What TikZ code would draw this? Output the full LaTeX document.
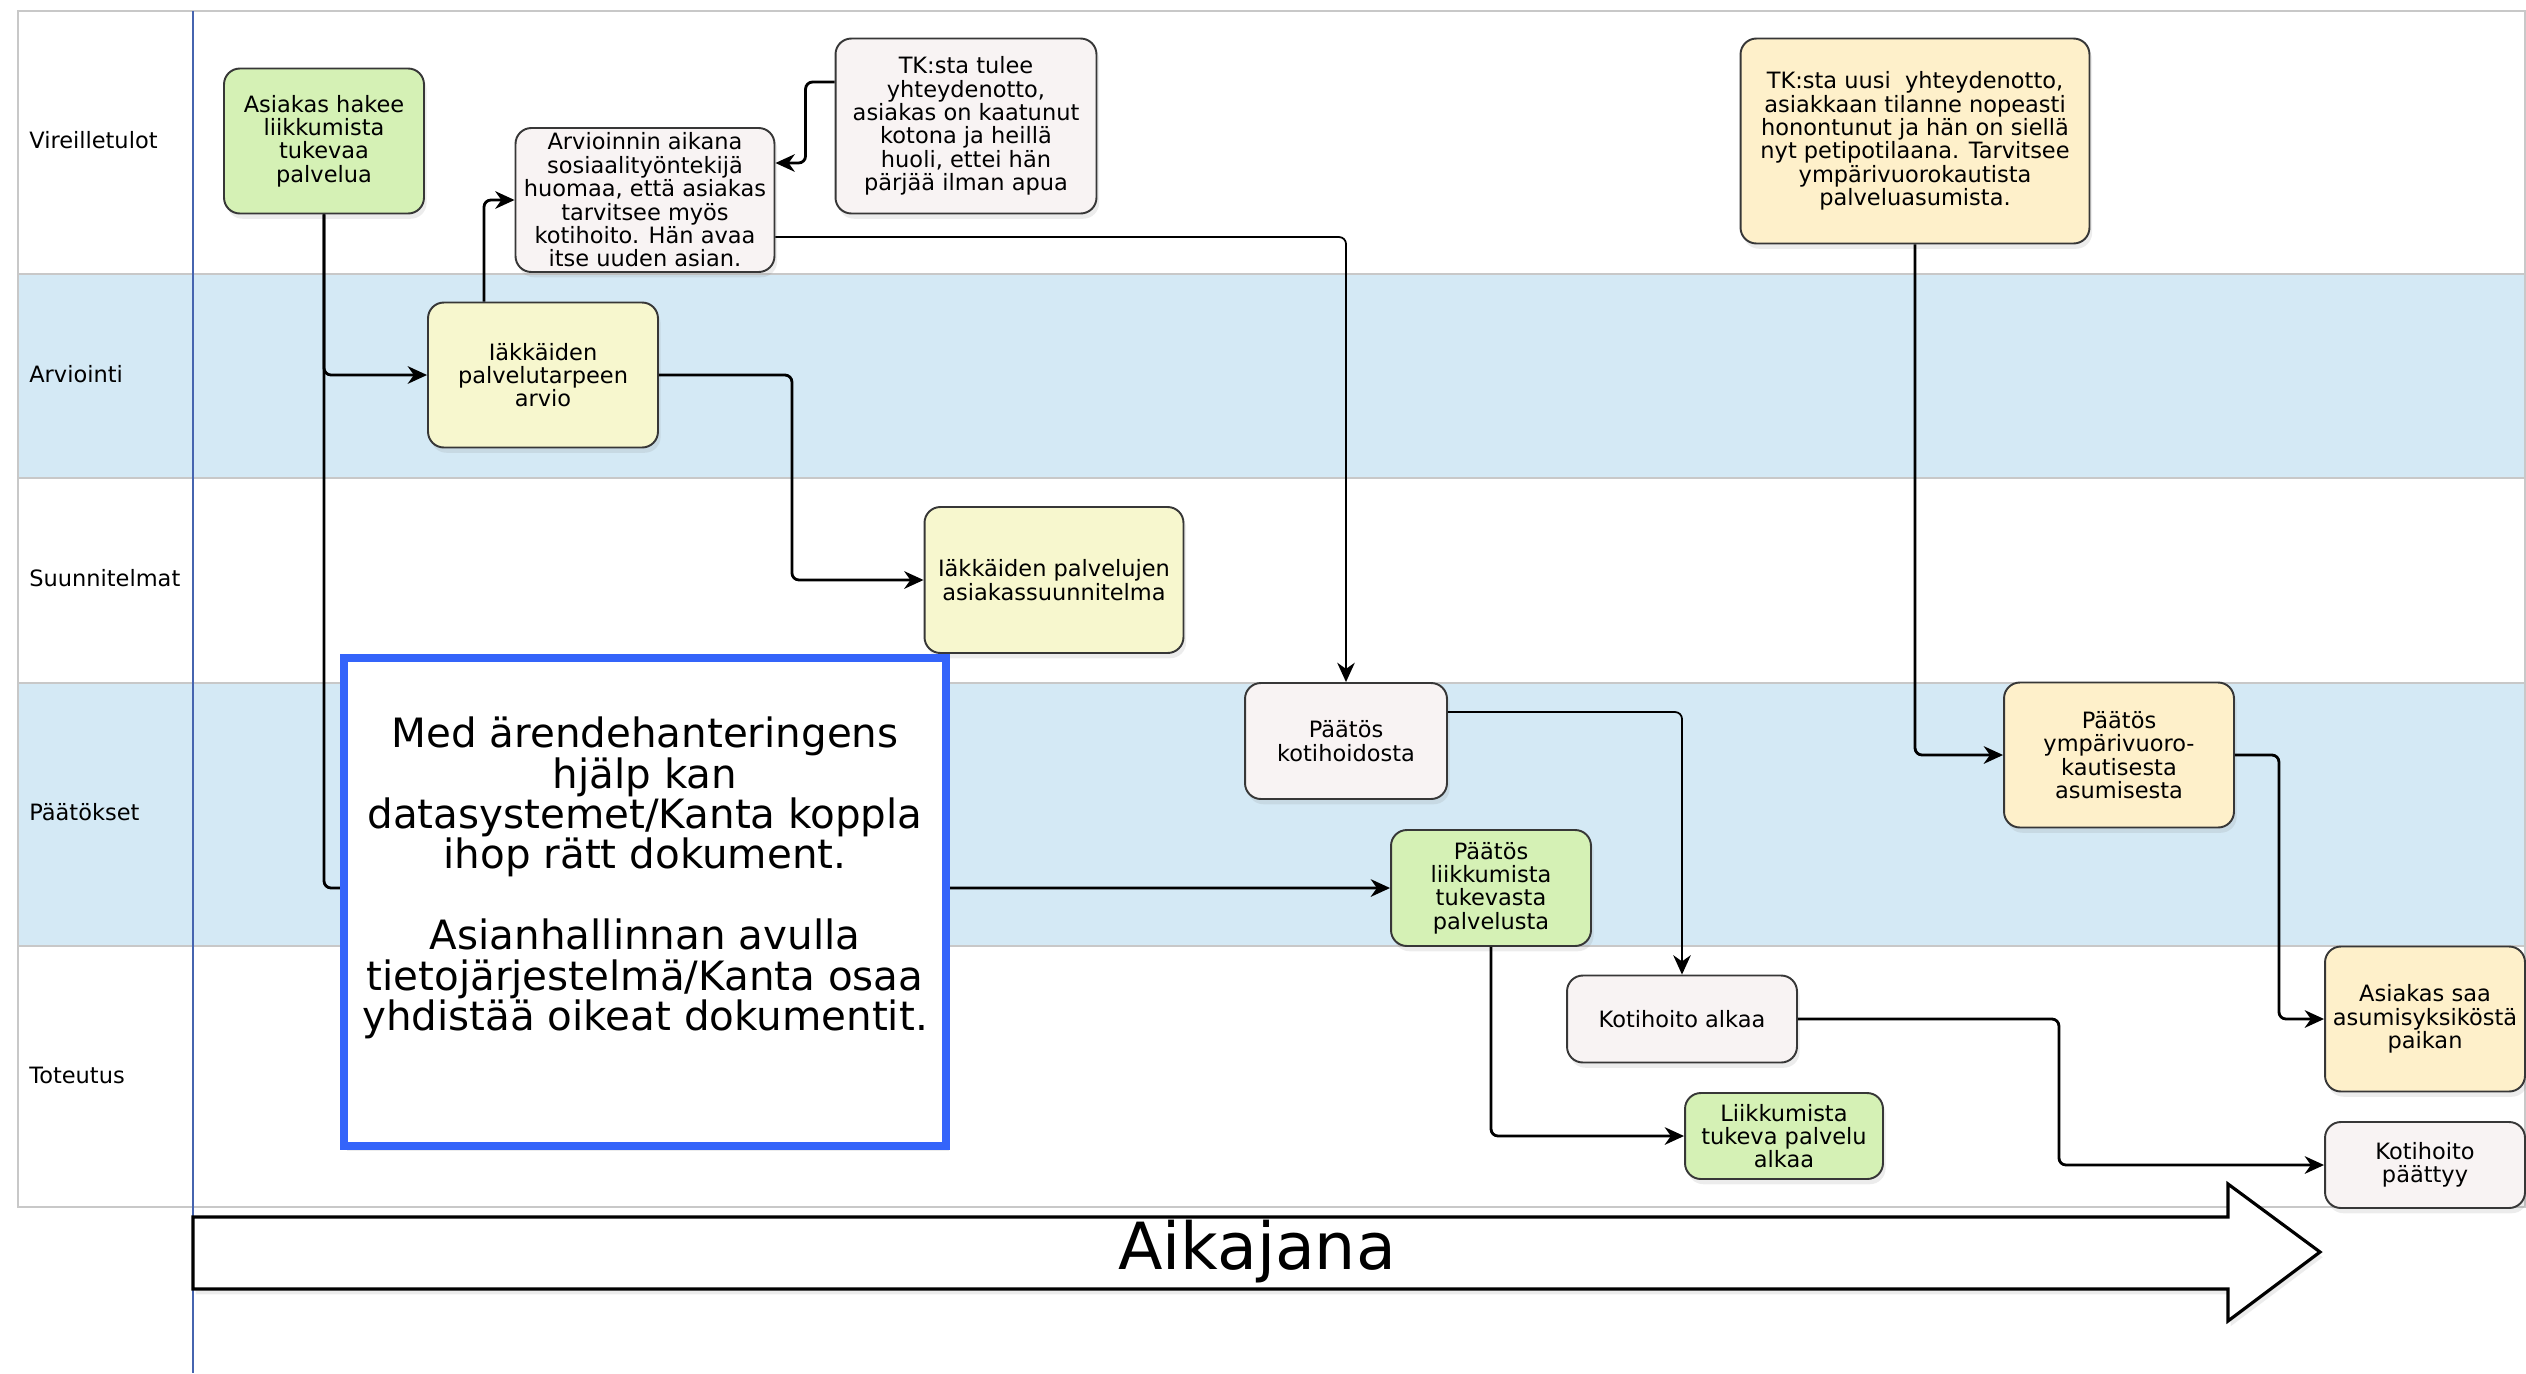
\documentclass[tikz,border=0pt]{standalone}
\usepackage{fontspec}
\setmainfont{DejaVu Sans}
\usetikzlibrary{calc,arrows.meta,shadows}

\definecolor{lanefill}{RGB}{212,233,245}
\definecolor{lanegray}{RGB}{200,200,200}
\definecolor{divblue}{RGB}{70,100,175}
\definecolor{boxline}{RGB}{55,55,55}
\definecolor{gfill}{RGB}{213,241,181}
\definecolor{yfill}{RGB}{247,247,206}
\definecolor{pfill}{RGB}{254,240,202}
\definecolor{wfill}{RGB}{248,243,243}
\definecolor{noteblue}{RGB}{52,100,250}

\newcommand\boxfont{\fontsize{12.8}{13.3}\selectfont}
\newcommand\notefont{\fontsize{23}{23}\selectfont}

\begin{document}
\begin{tikzpicture}[x=0.02cm,y=-0.02cm,
  laneline/.style={draw=lanegray,line width=1.5pt},
  lanelabel/.style={anchor=west,inner sep=0pt,font=\boxfont},
  box/.style={draw=boxline,line width=1.1pt,rounded corners=9pt,align=center,
    inner sep=1pt,font=\boxfont,
    drop shadow={opacity=0.15,shadow xshift=1.5pt,shadow yshift=-3pt}},
  gbox/.style={box,fill=gfill},
  ybox/.style={box,fill=yfill},
  pbox/.style={box,fill=pfill},
  wbox/.style={box,fill=wfill},
  conn/.style={line width=1.6pt,rounded corners=4pt,
    -{Stealth[length=11pt,width=10pt,inset=3.5pt]}},
  thinconn/.style={conn,line width=1pt}]
\useasboundingbox (0,0) rectangle (2526,1373);

% lanes
\fill[lanefill] (18,274) rectangle (2525,478);
\fill[lanefill] (18,683) rectangle (2525,946);
\draw[laneline] (18,11) rectangle (2525,1207);
\foreach \y in {274,478,683,946}
  \draw[laneline] (18,\y) -- (2525,\y);
\draw[divblue,line width=0.7pt] (193,11) -- (193,1373);

\node[lanelabel] (lblvir) at (29,140) {Vireilletulot};
\node[lanelabel] (lblarv) at (29,374) {Arviointi};
\node[lanelabel] (lblsuu) at (29,578) {Suunnitelmat};
\node[lanelabel] (lblpaa) at (29,812) {Päätökset};
\node[lanelabel] (lbltot) at (29,1075) {Toteutus};

% boxes
\node[gbox,minimum width=4cm,minimum height=2.9cm] (hakee) at (324,141)
  {Asiakas hakee\\liikkumista\\tukevaa\\palvelua};
\node[wbox,minimum width=5.18cm,minimum height=2.88cm] (arvioinnin) at (645,200)
  {Arvioinnin aikana\\sosiaalityöntekijä\\huomaa, että asiakas\\tarvitsee myös\\kotihoito. Hän avaa\\itse uuden asian.};
\node[wbox,minimum width=5.22cm,minimum height=3.5cm] (tktulee) at (966,126)
  {TK:sta tulee\\yhteydenotto,\\asiakas on kaatunut\\kotona ja heillä\\huoli, ettei hän\\pärjää ilman apua};
\node[ybox,minimum width=4.6cm,minimum height=2.9cm] (arvio) at (543,375)
  {Iäkkäiden\\palvelutarpeen\\arvio};
\node[pbox,minimum width=6.98cm,minimum height=4.1cm] (tkuusi) at (1915,141)
  {TK:sta uusi\ \ yhteydenotto,\\asiakkaan tilanne nopeasti\\honontunut ja hän on siellä\\nyt petipotilaana. Tarvitsee\\ympärivuorokautista\\palveluasumista.};
\node[ybox,minimum width=5.18cm,minimum height=2.92cm] (suunnitelma) at (1054,580)
  {Iäkkäiden palvelujen\\asiakassuunnitelma};
\node[wbox,minimum width=4.04cm,minimum height=2.32cm] (paatkoti) at (1346,741)
  {Päätös\\kotihoidosta};
\node[gbox,minimum width=4cm,minimum height=2.32cm] (paatliik) at (1491,888)
  {Päätös\\liikkumista\\tukevasta\\palvelusta};
\node[pbox,minimum width=4.6cm,minimum height=2.9cm] (paatymp) at (2119,755)
  {Päätös\\ympärivuoro-\\kautisesta\\asumisesta};
\node[wbox,minimum width=4.6cm,minimum height=1.74cm] (kotialkaa) at (1682,1019)
  {Kotihoito alkaa};
\node[gbox,minimum width=3.96cm,minimum height=1.72cm] (liikalkaa) at (1784,1136)
  {Liikkumista\\tukeva palvelu\\alkaa};
\node[pbox,minimum width=4cm,minimum height=2.9cm] (asumis) at (2425,1019)
  {Asiakas saa\\asumisyksiköstä\\paikan};
\node[wbox,minimum width=4cm,minimum height=1.72cm] (kotipaattyy) at (2425,1165)
  {Kotihoito\\päättyy};

% connectors
\draw[conn] (hakee.south) |- (arvio.west);
\draw[conn] (hakee.south) |- (paatliik.west);
\draw[conn] ($(arvio.north)+(-59,0)$) |- (arvioinnin.west);
\draw[conn] (arvio.east) -- ++(133,0) |- (suunnitelma.west);
\draw[conn] ($(tktulee.west)+(0,-44)$) -- ++(-29,0) |- ($(arvioinnin.east)+(0,-37)$);
\draw[thinconn] ($(arvioinnin.east)+(0,37)$) -| (paatkoti.north);
\draw[conn] (tkuusi.south) |- (paatymp.west);
\draw[thinconn] ($(paatkoti.east)+(0,-29)$) -| (kotialkaa.north);
\draw[conn] (paatliik.south) |- (liikalkaa.west);
\draw[conn] (paatymp.east) -- ++(44,0) |- (asumis.west);
\draw[conn] (kotialkaa.east) -- ++(261,0) |- (kotipaattyy.west);

% note
\node[draw=noteblue,line width=4.5pt,fill=white,minimum width=12.04cm,minimum height=9.76cm,
  drop shadow={opacity=0.15,shadow xshift=1.5pt,shadow yshift=-3pt}] (note) at (645,902) {};
\node[align=center,font=\notefont] (notetxt) at (645,878)
  {Med ärendehanteringens\\hjälp kan\\datasystemet/Kanta koppla\\ihop rätt dokument.\\[23pt]
   Asianhallinnan avulla\\tietojärjestelmä/Kanta osaa\\yhdistää oikeat dokumentit.};

% timeline
\draw[line width=1.8pt,fill=white,drop shadow={opacity=0.15,shadow xshift=1.5pt,shadow yshift=-3pt}]
  (193,1217) -- (2228,1217) -- (2228,1184) -- (2320,1252) -- (2228,1321)
  -- (2228,1289) -- (193,1289) -- cycle;
\node[font=\fontsize{37}{40}\selectfont] (aikajana) at (1257,1252) {Aikajana};
\end{tikzpicture}
\end{document}
